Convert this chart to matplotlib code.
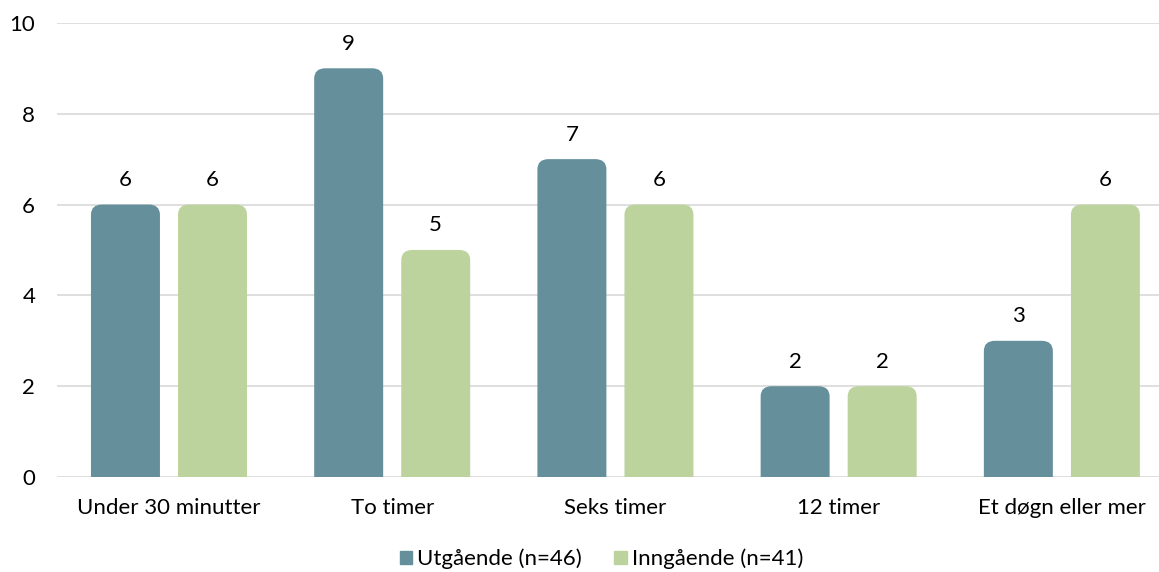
import matplotlib.pyplot as plt
from matplotlib.patches import FancyBboxPatch, Patch
import numpy as np

plt.rcParams['font.family'] = ['Lato', 'DejaVu Sans']

categories = ['Under 30 minutter', 'To timer', 'Seks timer', '12 timer', 'Et døgn eller mer']
utgaende = [6, 9, 7, 2, 3]
inngaende = [6, 5, 6, 2, 6]
series_names = ['Utgående (n=46)', 'Inngående (n=41)']
colors = ['#648f9b', '#bdd39d']
yticks = [0, 2, 4, 6, 8, 10]

fig = plt.figure(figsize=(11.59, 5.72), dpi=100)
# plot area runs a bit past the right edge of the figure
ax = fig.add_axes([0.0495, 0.166, 0.963, 0.794])

x = np.arange(len(categories))
w = 0.309
off = 0.195
fs = 16

def rounded_bars(xs, vals, color, label):
    bars = ax.bar(xs, vals, w, color=color, label=label, zorder=2)
    for b in bars:
        b.set_visible(False)
        # rounded top; bottom pushed below zero so it gets clipped off
        p = FancyBboxPatch((b.get_x(), -0.5), b.get_width(), b.get_height() + 0.5,
                           boxstyle='round,pad=0,rounding_size=0.05',
                           mutation_aspect=4.5, fc=color, ec='none',
                           zorder=2, clip_on=True)
        ax.add_patch(p)
        ax.text(b.get_x() + b.get_width() / 2, b.get_height() + 0.32,
                '%d' % b.get_height(), ha='center', va='bottom', fontsize=fs)
    return bars

rounded_bars(x - off, utgaende, colors[0], series_names[0])
rounded_bars(x + off, inngaende, colors[1], series_names[1])

ax.set_xlim(-0.5, len(categories) - 0.5)
ax.set_ylim(0, 10)
ax.set_yticks(yticks)
ax.set_xticks(x)
ax.set_xticklabels(categories, fontsize=fs)
ax.tick_params(axis='y', labelsize=fs, length=0, pad=16)
ax.tick_params(axis='x', length=0, pad=15)
ax.grid(axis='y', color='#d9d9d9', linewidth=1.2, zorder=0)
ax.set_axisbelow(True)
for s in ax.spines.values():
    s.set_visible(False)

handles = [Patch(color=c) for c in colors]
fig.legend(handles, series_names, loc='lower center', bbox_to_anchor=(0.519, -0.03),
           ncol=2, frameon=False, fontsize=fs, handlelength=0.55, handleheight=0.55,
           columnspacing=1.45, handletextpad=0.25)

fig.savefig('out.png', dpi=100)
